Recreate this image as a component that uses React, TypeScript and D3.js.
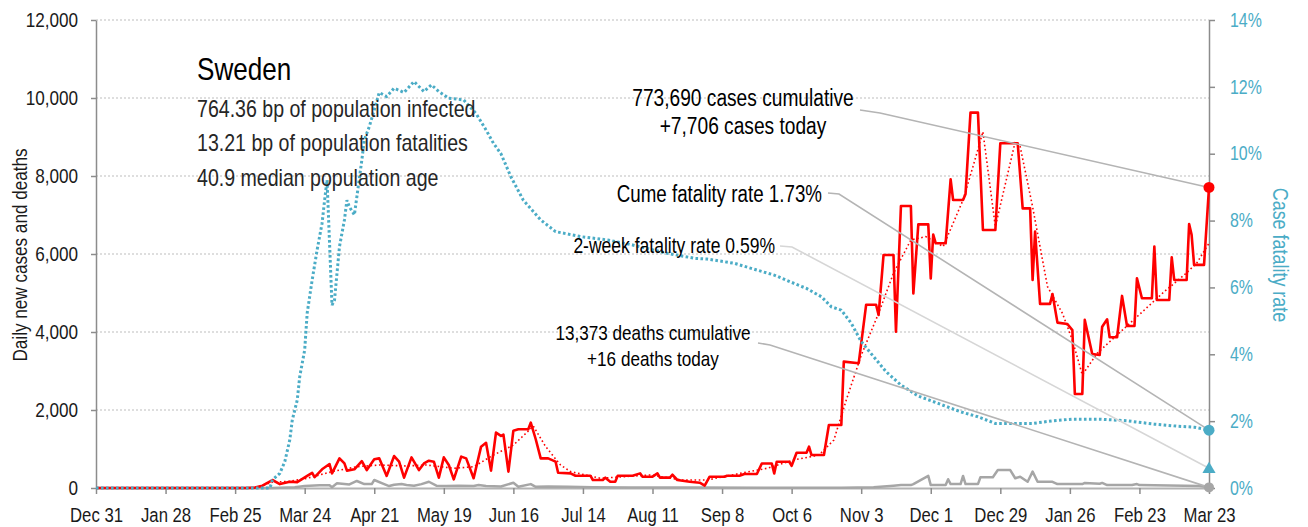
import { useEffect, useRef } from "react";
import * as d3 from "d3";

// x axis tick dates (every 28 days)
const tickDates = [
  "2019-12-31", "2020-01-28", "2020-02-25", "2020-03-24", "2020-04-21",
  "2020-05-19", "2020-06-16", "2020-07-14", "2020-08-11", "2020-09-08",
  "2020-10-06", "2020-11-03", "2020-12-01", "2020-12-29", "2021-01-26",
  "2021-02-23", "2021-03-23",
];
const leftTicks = [0, 2000, 4000, 6000, 8000, 10000, 12000];
const rightTicks = [0, 2, 4, 6, 8, 10, 12, 14];

// daily new cases
const dailyCases: [string, number][] = [
  ["2019-12-31", 0], ["2020-02-29", 0], ["2020-03-04", 10], ["2020-03-07", 60],
  ["2020-03-11", 205], ["2020-03-14", 100], ["2020-03-18", 160], ["2020-03-21", 150],
  ["2020-03-25", 310], ["2020-03-27", 390], ["2020-03-28", 280], ["2020-03-31", 480],
  ["2020-04-03", 615], ["2020-04-04", 376], ["2020-04-07", 760], ["2020-04-09", 630],
  ["2020-04-10", 445], ["2020-04-13", 480], ["2020-04-16", 690], ["2020-04-18", 460],
  ["2020-04-21", 735], ["2020-04-23", 760], ["2020-04-26", 310], ["2020-04-29", 820],
  ["2020-05-01", 675], ["2020-05-03", 265], ["2020-05-06", 785], ["2020-05-09", 460],
  ["2020-05-11", 630], ["2020-05-13", 700], ["2020-05-15", 675], ["2020-05-17", 265],
  ["2020-05-19", 785], ["2020-05-21", 590], ["2020-05-23", 223], ["2020-05-26", 805],
  ["2020-05-28", 760], ["2020-05-31", 250], ["2020-06-03", 1060], ["2020-06-05", 1160],
  ["2020-06-07", 445], ["2020-06-09", 1420], ["2020-06-11", 1335], ["2020-06-12", 1370],
  ["2020-06-14", 420], ["2020-06-16", 1470], ["2020-06-18", 1505], ["2020-06-22", 1505],
  ["2020-06-23", 1675], ["2020-06-25", 1250], ["2020-06-27", 760], ["2020-06-30", 760],
  ["2020-07-03", 675], ["2020-07-04", 390], ["2020-07-09", 375], ["2020-07-11", 315],
  ["2020-07-17", 315], ["2020-07-18", 205], ["2020-07-22", 205], ["2020-07-23", 265],
  ["2020-07-25", 160], ["2020-07-27", 160], ["2020-07-28", 315], ["2020-08-03", 315],
  ["2020-08-06", 375], ["2020-08-07", 290], ["2020-08-11", 290], ["2020-08-13", 375],
  ["2020-08-14", 265], ["2020-08-18", 265], ["2020-08-19", 340], ["2020-08-21", 205],
  ["2020-08-26", 160], ["2020-08-30", 135], ["2020-09-01", 60], ["2020-09-03", 290],
  ["2020-09-09", 290], ["2020-09-10", 315], ["2020-09-15", 315], ["2020-09-17", 360],
  ["2020-09-22", 360], ["2020-09-24", 630], ["2020-09-28", 630], ["2020-09-29", 375],
  ["2020-09-30", 675], ["2020-10-05", 675], ["2020-10-06", 570], ["2020-10-08", 905],
  ["2020-10-12", 905], ["2020-10-13", 1060], ["2020-10-14", 845], ["2020-10-19", 845],
  ["2020-10-21", 1615], ["2020-10-26", 1615], ["2020-10-27", 3240], ["2020-11-02", 3200],
  ["2020-11-05", 4700], ["2020-11-09", 4700], ["2020-11-10", 4435], ["2020-11-12", 5975],
  ["2020-11-16", 5975], ["2020-11-17", 4010], ["2020-11-19", 7230], ["2020-11-23", 7230],
  ["2020-11-24", 4990], ["2020-11-26", 6760], ["2020-11-30", 6760], ["2020-12-01", 5375],
  ["2020-12-02", 6500], ["2020-12-03", 6275], ["2020-12-07", 6275], ["2020-12-09", 7915],
  ["2020-12-10", 7385], ["2020-12-14", 7385], ["2020-12-15", 7540], ["2020-12-17", 9625],
  ["2020-12-20", 9625], ["2020-12-22", 6615], ["2020-12-27", 6615], ["2020-12-29", 8840],
  ["2021-01-05", 8840], ["2021-01-07", 7170], ["2021-01-10", 7170], ["2021-01-11", 5335],
  ["2021-01-12", 6575], ["2021-01-14", 4720], ["2021-01-18", 4720], ["2021-01-19", 4975],
  ["2021-01-21", 4240], ["2021-01-25", 4205], ["2021-01-27", 4050], ["2021-01-28", 2410],
  ["2021-01-31", 2410], ["2021-02-01", 4310], ["2021-02-04", 3435], ["2021-02-07", 3410],
  ["2021-02-08", 4135], ["2021-02-10", 4325], ["2021-02-11", 3865], ["2021-02-14", 3865],
  ["2021-02-16", 4925], ["2021-02-18", 4155], ["2021-02-21", 4155], ["2021-02-22", 5375],
  ["2021-02-24", 4865], ["2021-02-28", 4865], ["2021-03-01", 6190], ["2021-03-02", 4820],
  ["2021-03-07", 4820], ["2021-03-08", 5915], ["2021-03-09", 5335], ["2021-03-14", 5335],
  ["2021-03-15", 6770], ["2021-03-16", 6490], ["2021-03-17", 5720], ["2021-03-21", 5720],
  ["2021-03-23", 7706],
];

// 7-day average of cases
const avgCases: [string, number][] = [
  ["2019-12-31", 0], ["2020-03-04", 0], ["2020-03-11", 150], ["2020-03-18", 170],
  ["2020-03-25", 250], ["2020-04-04", 420], ["2020-04-14", 545], ["2020-04-23", 590],
  ["2020-05-04", 565], ["2020-05-12", 590], ["2020-05-23", 505], ["2020-05-31", 545],
  ["2020-06-08", 845], ["2020-06-16", 1100], ["2020-06-21", 1400], ["2020-06-24", 1590],
  ["2020-06-29", 1060], ["2020-07-05", 590], ["2020-07-09", 420], ["2020-07-21", 250],
  ["2020-08-10", 335], ["2020-08-23", 205], ["2020-09-02", 205], ["2020-09-12", 335],
  ["2020-09-26", 505], ["2020-10-07", 720], ["2020-10-17", 845], ["2020-10-23", 1230],
  ["2020-10-28", 2255], ["2020-11-03", 3400], ["2020-11-10", 4480], ["2020-11-16", 5505],
  ["2020-11-23", 6360], ["2020-11-29", 6445], ["2020-12-06", 6190], ["2020-12-14", 7385],
  ["2020-12-18", 8240], ["2020-12-22", 9135], ["2020-12-27", 6700], ["2021-01-04", 8880],
  ["2021-01-06", 8750], ["2021-01-11", 7210], ["2021-01-17", 5160], ["2021-01-23", 4480],
  ["2021-01-27", 3795], ["2021-01-31", 2900], ["2021-02-06", 3455], ["2021-02-14", 3925],
  ["2021-02-22", 4390], ["2021-03-05", 5035], ["2021-03-13", 5460], ["2021-03-18", 5760],
  ["2021-03-23", 6275],
];

// daily deaths
const dailyDeaths: [string, number][] = [
  ["2019-12-31", 0], ["2020-03-11", 0], ["2020-03-20", 20], ["2020-03-24", 50],
  ["2020-03-30", 70], ["2020-04-03", 70], ["2020-04-04", 20], ["2020-04-06", 120],
  ["2020-04-11", 90], ["2020-04-14", 180], ["2020-04-17", 100], ["2020-04-20", 100],
  ["2020-04-21", 205], ["2020-04-25", 100], ["2020-04-27", 50], ["2020-04-29", 85],
  ["2020-05-02", 100], ["2020-05-04", 75], ["2020-05-07", 60], ["2020-05-10", 100],
  ["2020-05-13", 160], ["2020-05-16", 60], ["2020-05-20", 50], ["2020-05-25", 60],
  ["2020-05-31", 50], ["2020-06-02", 75], ["2020-06-05", 50], ["2020-06-11", 40],
  ["2020-06-16", 135], ["2020-06-18", 30], ["2020-06-23", 100], ["2020-06-25", 30],
  ["2020-06-30", 40], ["2020-07-08", 30], ["2020-07-18", 20], ["2020-08-02", 15],
  ["2020-08-27", 10], ["2020-09-26", 5], ["2020-10-26", 5], ["2020-11-08", 20],
  ["2020-11-16", 60], ["2020-11-19", 75], ["2020-11-23", 75], ["2020-11-24", 100],
  ["2020-11-30", 310], ["2020-12-01", 75], ["2020-12-07", 75], ["2020-12-08", 225],
  ["2020-12-09", 100], ["2020-12-13", 100], ["2020-12-14", 310], ["2020-12-15", 100],
  ["2020-12-20", 100], ["2020-12-21", 275], ["2020-12-26", 275], ["2020-12-28", 460],
  ["2021-01-02", 460], ["2021-01-04", 250], ["2021-01-06", 290], ["2021-01-09", 160],
  ["2021-01-11", 420], ["2021-01-13", 160], ["2021-01-19", 160], ["2021-01-21", 100],
  ["2021-01-31", 100], ["2021-02-01", 130], ["2021-02-07", 110], ["2021-02-08", 130],
  ["2021-02-10", 75], ["2021-02-20", 75], ["2021-02-22", 100], ["2021-02-23", 75],
  ["2021-03-19", 50], ["2021-03-23", 16],
];

// cumulative case fatality rate, percent
const fatalityRate: [string, number][] = [
  ["2019-12-31", 0], ["2020-03-10", 0], ["2020-03-11", 0.24], ["2020-03-14", 0.44],
  ["2020-03-16", 0.79], ["2020-03-18", 1.44], ["2020-03-19", 2.03], ["2020-03-21", 2.63],
  ["2020-03-22", 3.33], ["2020-03-24", 4.13], ["2020-03-25", 5.23], ["2020-03-27", 6.22],
  ["2020-03-29", 7.12], ["2020-03-31", 7.92], ["2020-04-01", 8.6], ["2020-04-02", 9.21],
  ["2020-04-04", 5.47], ["2020-04-05", 5.62], ["2020-04-06", 6.42], ["2020-04-07", 7.22],
  ["2020-04-09", 8.02], ["2020-04-10", 8.61], ["2020-04-11", 8.41], ["2020-04-13", 8.17],
  ["2020-04-14", 8.71], ["2020-04-16", 9.81], ["2020-04-17", 10.41], ["2020-04-19", 10.81],
  ["2020-04-21", 11.31], ["2020-04-23", 11.83], ["2020-04-26", 11.71], ["2020-04-29", 11.96],
  ["2020-05-03", 11.83], ["2020-05-07", 12.16], ["2020-05-11", 11.86], ["2020-05-14", 12.06],
  ["2020-05-17", 11.86], ["2020-05-21", 11.66], ["2020-05-27", 11.61], ["2020-06-01", 11.2],
  ["2020-06-05", 10.71], ["2020-06-08", 10.31], ["2020-06-11", 10.0], ["2020-06-15", 9.31],
  ["2020-06-20", 8.61], ["2020-06-27", 8.02], ["2020-07-03", 7.67], ["2020-07-13", 7.52],
  ["2020-07-24", 7.42], ["2020-08-03", 7.27], ["2020-08-17", 7.02], ["2020-08-28", 6.87],
  ["2020-09-02", 6.85], ["2020-09-13", 6.72], ["2020-09-22", 6.52], ["2020-09-29", 6.37],
  ["2020-10-07", 6.12], ["2020-10-12", 5.97], ["2020-10-18", 5.72], ["2020-10-22", 5.42],
  ["2020-10-26", 5.32], ["2020-10-30", 4.93], ["2020-11-03", 4.38], ["2020-11-08", 3.93],
  ["2020-11-13", 3.48], ["2020-11-19", 3.08], ["2020-11-26", 2.75], ["2020-12-04", 2.53],
  ["2020-12-13", 2.28], ["2020-12-20", 2.13], ["2020-12-27", 1.93], ["2021-01-02", 1.93],
  ["2021-01-11", 1.93], ["2021-01-19", 2.01], ["2021-01-27", 2.06], ["2021-02-07", 2.06],
  ["2021-02-18", 2.01], ["2021-03-01", 1.91], ["2021-03-10", 1.85], ["2021-03-17", 1.82],
  ["2021-03-23", 1.73],
];

const twoWeekRate = 0.59;

const titleText = "Sweden";
const infoLines = [
  "764.36 bp of population infected",
  "13.21 bp of population fatalities",
  "40.9 median population age",
];
const casesNote = ["773,690 cases cumulative", "+7,706 cases today"];
const cumeNote = "Cume fatality rate 1.73%";
const twoWeekNote = "2-week fatality rate 0.59%";
const deathsNote = ["13,373 deaths cumulative", "+16 deaths today"];

// no narrow face installed: Liberation Sans squeezed horizontally after layout
const FONT = "'Liberation Sans', Arial, sans-serif";
const SQUEEZE = 0.815;
const RED = "#ff0000";
const BLUE = "#4bacc6";
const GREY = "#a6a6a6";
const INK = "#1a1a1a";

function CovidChart() {
  const ref = useRef<SVGSVGElement | null>(null);

  useEffect(() => {
    const width = 1308;
    const height = 527;
    const margin = { top: 20, right: 99, bottom: 39, left: 96 };
    const x0 = margin.left;
    const x1 = width - margin.right;
    const y0 = height - margin.bottom;

    const svg = d3.select(ref.current);
    svg.selectAll("*").remove();

    const parse = d3.utcParse("%Y-%m-%d");
    const x = d3
      .scaleUtc()
      .domain([parse(tickDates[0])!, parse(tickDates[tickDates.length - 1])!])
      .range([x0, x1]);
    const y = d3.scaleLinear().domain([0, 12000]).range([y0, margin.top]);
    const yR = d3.scaleLinear().domain([0, 14]).range([y0, margin.top]);

    // gridlines
    svg
      .append("g")
      .selectAll("line")
      .data(leftTicks.filter((d) => d > 0))
      .enter()
      .append("line")
      .attr("x1", x0)
      .attr("x2", x1)
      .attr("y1", (d) => y(d))
      .attr("y2", (d) => y(d))
      .attr("stroke", "#bdbdbd")
      .attr("stroke-width", 1)
      .attr("stroke-dasharray", "2,2");

    // axes
    const left = svg
      .append("g")
      .attr("transform", `translate(${x0},0)`)
      .call(
        d3.axisLeft(y).tickValues(leftTicks).tickSize(5).tickSizeOuter(0).tickPadding(13).tickFormat(d3.format(","))
      );
    const right = svg
      .append("g")
      .attr("transform", `translate(${x1},0)`)
      .call(
        d3.axisRight(yR).tickValues(rightTicks).tickSize(6).tickSizeOuter(0).tickPadding(15).tickFormat((d) => `${d}%`)
      );
    const bottom = svg
      .append("g")
      .attr("transform", `translate(0,${y0})`)
      .call(
        d3
          .axisBottom(x)
          .tickValues(tickDates.map((d) => parse(d)!))
          .tickSize(6)
          .tickSizeOuter(0)
          .tickPadding(13)
          .tickFormat((d) => d3.utcFormat("%b %-d")(d as Date))
      );

    [left, right].forEach((g) => {
      g.select(".domain").attr("stroke", "#8c8c8c").attr("stroke-width", 1.5);
      g.selectAll(".tick line").attr("stroke", "#8c8c8c").attr("stroke-width", 1.5);
    });
    bottom.select(".domain").attr("stroke", "#b3b3b3").attr("stroke-width", 2);
    bottom.selectAll(".tick line").attr("stroke", "#8c8c8c").attr("stroke-width", 1.5);
    left.selectAll("text").attr("font-family", FONT).attr("font-size", 21).attr("fill", INK);
    right.selectAll("text").attr("font-family", FONT).attr("font-size", 19.5).attr("fill", BLUE);
    bottom.selectAll("text").attr("font-family", FONT).attr("font-size", 20.5).attr("fill", INK);

    // axis titles
    svg
      .append("text")
      .attr("transform", `translate(27,255) rotate(-90)`)
      .attr("text-anchor", "middle")
      .attr("font-family", FONT)
      .attr("font-size", 21)
      .attr("fill", INK)
      .text("Daily new cases and deaths");
    svg
      .append("text")
      .attr("transform", `translate(1273,255) rotate(90)`)
      .attr("text-anchor", "middle")
      .attr("font-family", FONT)
      .attr("font-size", 22)
      .attr("fill", BLUE)
      .text("Case fatality rate");

    const lineL = d3
      .line<[string, number]>()
      .x((d) => x(parse(d[0])!))
      .y((d) => y(d[1]));
    const lineR = d3
      .line<[string, number]>()
      .x((d) => x(parse(d[0])!))
      .y((d) => yR(d[1]));

    // deaths
    svg
      .append("path")
      .datum(dailyDeaths)
      .attr("fill", "none")
      .attr("stroke", GREY)
      .attr("stroke-width", 2.5)
      .attr("stroke-linejoin", "round")
      .attr("d", lineL);

    // 7-day average of cases
    svg
      .append("path")
      .datum(avgCases)
      .attr("fill", "none")
      .attr("stroke", RED)
      .attr("stroke-width", 1.6)
      .attr("stroke-dasharray", "1.6,2.6")
      .attr("d", lineL);

    // daily cases
    svg
      .append("path")
      .datum(dailyCases)
      .attr("fill", "none")
      .attr("stroke", RED)
      .attr("stroke-width", 2.6)
      .attr("stroke-linejoin", "round")
      .attr("d", lineL);

    // fatality rate
    svg
      .append("path")
      .datum(fatalityRate)
      .attr("fill", "none")
      .attr("stroke", BLUE)
      .attr("stroke-width", 3)
      .attr("stroke-dasharray", "2.6,2.4")
      .attr("d", lineR);

    // title block
    svg
      .append("text")
      .attr("x", 197)
      .attr("y", 80)
      .attr("font-family", FONT)
      .attr("font-size", 32)
      .attr("fill", "#000")
      .text(titleText);
    svg
      .append("g")
      .selectAll("text")
      .data(infoLines)
      .enter()
      .append("text")
      .attr("x", 197)
      .attr("y", (d, i) => 117 + i * 34.3)
      .attr("font-family", FONT)
      .attr("font-size", 24)
      .attr("fill", "#262626")
      .text((d) => d);

    // annotations and leader lines
    const last = dailyCases[dailyCases.length - 1];
    const lastDate = x(parse(last[0])!);
    const pCases: [number, number] = [lastDate, y(last[1])];
    const pCume: [number, number] = [lastDate, yR(fatalityRate[fatalityRate.length - 1][1])];
    const pTwo: [number, number] = [lastDate, yR(twoWeekRate)];
    const pDeaths: [number, number] = [lastDate, y(dailyDeaths[dailyDeaths.length - 1][1])];

    const leaders: { pts: [number, number][]; color: string }[] = [
      { pts: [[860, 110], [880, 113], pCases], color: "#b4b4b4" },
      { pts: [[828, 193], [839, 194], pCume], color: "#b4b4b4" },
      { pts: [[780, 246], [792, 247], pTwo], color: "#d6d6d6" },
      { pts: [[758, 343], [770, 345], pDeaths], color: "#b4b4b4" },
    ];
    svg
      .append("g")
      .selectAll("path")
      .data(leaders)
      .enter()
      .append("path")
      .attr("fill", "none")
      .attr("stroke", (d) => d.color)
      .attr("stroke-width", 1.6)
      .attr("d", (d) => d3.line()(d.pts));

    const note = (lines: string[], xPos: number, yPos: number, size: number, anchor: string, gap: number) => {
      svg
        .append("g")
        .selectAll("text")
        .data(lines)
        .enter()
        .append("text")
        .attr("x", xPos)
        .attr("y", (d, i) => yPos + i * gap)
        .attr("text-anchor", anchor)
        .attr("font-family", FONT)
        .attr("font-size", size)
        .attr("fill", "#000")
        .text((d) => d);
    };
    note(casesNote, 743, 106, 23.5, "middle", 28);
    note([cumeNote], 822, 202, 23, "end", 0);
    note([twoWeekNote], 775, 253, 21.5, "end", 0);
    note(deathsNote, 653, 340, 21, "middle", 26);

    // end markers
    svg.append("circle").attr("cx", pCases[0]).attr("cy", pCases[1]).attr("r", 5.5).attr("fill", RED);
    svg.append("circle").attr("cx", pCume[0]).attr("cy", pCume[1]).attr("r", 5.5).attr("fill", BLUE);
    svg
      .append("path")
      .attr("transform", `translate(${pTwo[0]},${pTwo[1] + 1})`)
      .attr("d", d3.symbol(d3.symbolTriangle, 75)())
      .attr("fill", BLUE);
    svg.append("circle").attr("cx", pDeaths[0]).attr("cy", pDeaths[1]).attr("r", 5).attr("fill", GREY);

    // condense every label to look like a narrow face
    svg.selectAll<SVGTextElement, unknown>("text").each(function () {
      const w = this.getComputedTextLength();
      if (w > 0) {
        this.setAttribute("textLength", String(w * SQUEEZE));
        this.setAttribute("lengthAdjust", "spacingAndGlyphs");
      }
    });
  }, []);

  return (
    <svg
      ref={ref}
      width={1308}
      height={527}
      style={{ position: "absolute", left: 0, top: 0, background: "#fff" }}
    />
  );
}

export default function App() {
  return <CovidChart />;
}
